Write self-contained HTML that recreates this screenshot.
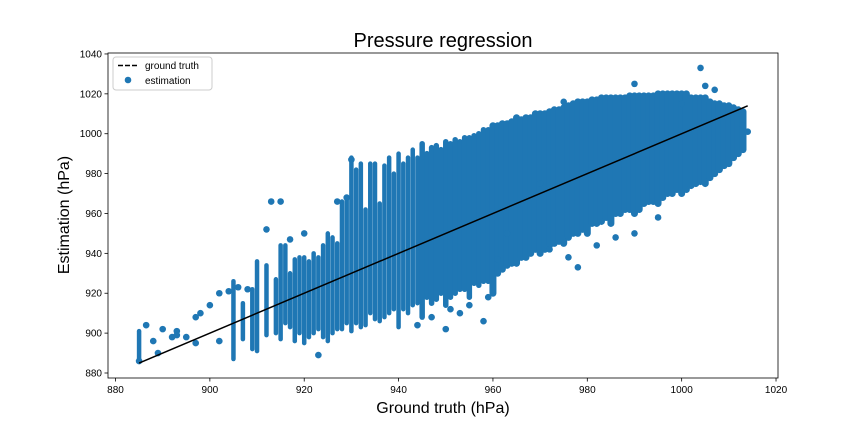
<!DOCTYPE html>
<html><head><meta charset="utf-8"><style>
body{margin:0;background:#fff;}
svg{display:block;font-family:"Liberation Sans","DejaVu Sans",sans-serif;}
</style></head><body>
<svg id="chart" width="864" height="432" viewBox="0 0 864 432">
<rect width="864" height="432" fill="#fff"/>
<text x="443" y="47" font-size="20" text-anchor="middle" fill="#000">Pressure regression</text>
<g id="marks"></g>
<g id="axes"></g>
<text x="443" y="413" font-size="16" text-anchor="middle">Ground truth (hPa)</text>
<text transform="translate(69,215) rotate(-90)" font-size="16" text-anchor="middle">Estimation (hPa)</text>
<g>
<rect x="113" y="57" width="99" height="33" rx="3" fill="#fff" fill-opacity="0.85" stroke="#ccc"/>
<line x1="118" y1="65.5" x2="139" y2="65.5" stroke="#000" stroke-width="1.5" stroke-dasharray="5,2"/>
<text x="145" y="69" font-size="10">ground truth</text>
<circle cx="128" cy="80" r="3.3" fill="#1f77b4"/>
<text x="145" y="84" font-size="10">estimation</text>
</g>
</svg>
<script>
// Column stripes: truth value, estimation min, estimation max
const colTruth = [885,905,907,909,910,912,914,915,916,917,918,919,920,921,922,923,924,925,926,927,928,929,930,931,932,933,934,935,936,937,938,939,940,941,942,943,944,945,946,947,948,949,950,951,952,953,954,955,956,957,958,959,960,961,962,963,964,965,966,967,968,969,970,971,972,973,974,975,976,977,978,979,980,981,982,983,984,985,986,987,988,989,990,991,992,993,994,995,996,997,998,999,1000,1001,1002,1003,1004,1005,1006,1007,1008,1009,1010,1011,1012,1013];
const colLo    = [886,887,897,892,891,899,900,897,905,903,896,900,895,898,900,902,898,896,900,902,902,905,901,905,903,904,910,907,906,908,910,912,903,912,910,914,915,908,918,915,917,920,914,918,920,922,922,918,925,924,926,926,920,930,932,934,935,935,938,938,940,942,940,942,944,945,946,945,948,950,950,952,950,955,955,956,958,955,960,960,962,962,960,962,965,966,966,965,968,970,970,972,970,972,974,975,976,975,978,980,982,984,985,988,990,992];
const colHi    = [901,926,915,922,936,934,927,944,944,930,937,938,938,936,940,938,944,950,948,945,966,968,988,982,985,962,985,985,965,984,988,980,990,985,988,992,988,995,990,993,994,992,996,995,997,996,998,998,999,1000,1002,1002,1004,1004,1005,1005,1006,1008,1007,1008,1008,1010,1010,1010,1011,1012,1012,1013,1014,1015,1016,1016,1016,1017,1017,1018,1018,1018,1018,1018,1018,1019,1019,1019,1019,1019,1019,1020,1020,1020,1020,1020,1020,1020,1018,1018,1018,1018,1016,1015,1015,1014,1014,1013,1012,1011];
// Isolated outlier points
const ptTruth = [886.5,888,889,890,892,893,895,897,898,900,902,904,906,908,912,913,915,917,920,923,927,929,930,947,950,951,955,959,961,963,966,970,972,976,978,982,986,990,995,1000,1004,1005,1007,1012,1013,1014,885,897,902,893,975,990,944,953,958];
const ptEst   = [904,896,890,902,898,901,898,908,910,914,920,921,923,922,952,966,966,947,950,889,966,968,987,908,902,912,914,918,937,950,965,975,942,938,933,944,948,950,958,1015,1033,1024,1022,1012,1004,1001,886,895,896,899,1016,1025,904,910,906];

const svgNS = "http://www.w3.org/2000/svg";
const L=108, R=778, T=53, B=378;
function X(v){return 115.5 + (v-880)*4.718;}
function Y(v){return 373 - (v-880)*1.994;}
const marks = document.getElementById('marks');
const axes = document.getElementById('axes');
const blue = "#1f77b4";
for(let i=0;i<colTruth.length;i++){
  const ln=document.createElementNS(svgNS,'line');
  ln.setAttribute('x1',X(colTruth[i]));ln.setAttribute('x2',X(colTruth[i]));
  ln.setAttribute('y1',Y(colLo[i]));ln.setAttribute('y2',Y(colHi[i]));
  const w = colTruth[i]>=960 ? 7 : (colTruth[i]>=945 ? 5.5 : 4.5);
  ln.setAttribute('stroke',blue);ln.setAttribute('stroke-width',w);ln.setAttribute('stroke-linecap','round');
  
  
  marks.appendChild(ln);
}
for(let i=0;i<ptTruth.length;i++){
  const c=document.createElementNS(svgNS,'circle');
  c.setAttribute('cx',X(ptTruth[i]));c.setAttribute('cy',Y(ptEst[i]));c.setAttribute('r',3.3);c.setAttribute('fill',blue);
  
  
  marks.appendChild(c);
}
const gt=document.createElementNS(svgNS,'line');
gt.setAttribute('x1',X(885));gt.setAttribute('y1',Y(885));gt.setAttribute('x2',X(1014));gt.setAttribute('y2',Y(1014));
gt.setAttribute('stroke','#000');gt.setAttribute('stroke-width',1.5);


marks.appendChild(gt);

const frame=document.createElementNS(svgNS,'rect');
frame.setAttribute('x',L);frame.setAttribute('y',T);frame.setAttribute('width',R-L);frame.setAttribute('height',B-T);
frame.setAttribute('fill','none');frame.setAttribute('stroke','#000');frame.setAttribute('stroke-width',0.8);


axes.appendChild(frame);
const xTicks=[880,900,920,940,960,980,1000,1020];
const yTicks=[880,900,920,940,960,980,1000,1020,1040];
xTicks.forEach(v=>{
  const t=document.createElementNS(svgNS,'line');
  t.setAttribute('x1',X(v));t.setAttribute('x2',X(v));t.setAttribute('y1',B);t.setAttribute('y2',B+3.5);t.setAttribute('stroke','#000');t.setAttribute('stroke-width',0.8);
  
  
  axes.appendChild(t);
  const s=document.createElementNS(svgNS,'text');
  s.setAttribute('x',X(v));s.setAttribute('y',B+15);s.setAttribute('font-size',10);s.setAttribute('text-anchor','middle');s.textContent=v;
  
  
  axes.appendChild(s);
});
yTicks.forEach(v=>{
  const t=document.createElementNS(svgNS,'line');
  t.setAttribute('x1',L-3.5);t.setAttribute('x2',L);t.setAttribute('y1',Y(v));t.setAttribute('y2',Y(v));t.setAttribute('stroke','#000');t.setAttribute('stroke-width',0.8);
  
  
  axes.appendChild(t);
  const s=document.createElementNS(svgNS,'text');
  s.setAttribute('x',L-6);s.setAttribute('y',Y(v)+3.5);s.setAttribute('font-size',10);s.setAttribute('text-anchor','end');s.textContent=v;
  
  
  axes.appendChild(s);
});
</script>
</body></html>
